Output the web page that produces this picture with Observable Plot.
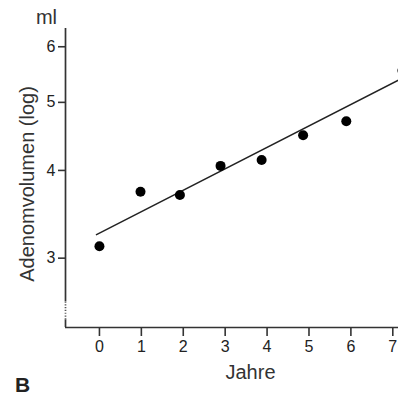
<!DOCTYPE html>
<html>
<head>
<meta charset="utf-8">
<script src="https://cdn.jsdelivr.net/npm/d3@7"></script>
<script src="https://cdn.jsdelivr.net/npm/@observablehq/plot@0.6"></script>
<style>
  html, body { margin: 0; padding: 0; background: #fff; }
  svg { font-family: "Liberation Sans", Arial, sans-serif; }
</style>
</head>
<body>
<div id="chart"></div>
<script>
// Data
const years = [0, 0.98, 1.92, 2.89, 3.87, 4.86, 5.89, 7.23];
const volumes = [3.12, 3.73, 3.69, 4.06, 4.14, 4.49, 4.70, 5.55];
const fitYears = [-0.07, 7.14];
const fitVolumes = [3.24, 5.38];
const xTicks = [0, 1, 2, 3, 4, 5, 6, 7];
const yTicks = [3, 4, 5, 6];
const xDomain = [-0.81, 7.136];
const yDomain = [2.39, 6.37];
const axisBreak = [2.45, 2.6];

const points = years.map((x, i) => ({x, y: volumes[i]}));
const fit = fitYears.map((x, i) => ({x, y: fitVolumes[i]}));

const ink = "#222";
const chart = Plot.plot({
  width: 398,
  height: 398,
  marginLeft: 65,
  marginRight: 0,
  marginTop: 28,
  marginBottom: 71,
  style: {fontFamily: "Liberation Sans, Arial, sans-serif", color: ink, background: "#fff"},
  x: {domain: xDomain},
  y: {type: "log", domain: yDomain},
  marks: [
    // axis lines
    Plot.ruleY([yDomain[0]], {stroke: "#333", strokeWidth: 1.7}),
    Plot.ruleX([xDomain[0]], {y1: axisBreak[1], y2: yDomain[1], stroke: "#333", strokeWidth: 1.7}),
    Plot.ruleX([xDomain[0]], {y1: axisBreak[0], y2: axisBreak[1], stroke: "#555", strokeWidth: 1.7, strokeDasharray: "1.2,1.6"}),
    Plot.ruleX([xDomain[0]], {y1: yDomain[0], y2: axisBreak[0], stroke: "#333", strokeWidth: 1.7}),
    Plot.axisX(xTicks, {tickSize: 9, tickPadding: 4, fontSize: 16, label: null, stroke: "#333", fill: "#222", strokeWidth: 1.6, tickFormat: d => d}),
    Plot.axisY(yTicks, {tickSize: 7, tickPadding: 3, fontSize: 16, label: null, stroke: "#333", fill: "#222", strokeWidth: 1.6, tickFormat: d => d}),
    // regression line
    Plot.line(fit, {x: "x", y: "y", stroke: ink, strokeWidth: 1.5}),
    // data points
    Plot.dot(points, {x: "x", y: "y", r: 5, fill: "#000", stroke: "none"}),
    // labels
    Plot.text(["Jahre"], {frameAnchor: "bottom", textAnchor: "middle", lineAnchor: "middle", dx: 18.5, dy: 45, fontSize: 20, fill: "#333"}),
    Plot.text(["Adenomvolumen (log)"], {frameAnchor: "left", textAnchor: "middle", lineAnchor: "middle", rotate: -90, dx: -38, dy: 6, fontSize: 20, fill: "#333"}),
    Plot.text(["ml"], {frameAnchor: "top-left", textAnchor: "middle", lineAnchor: "middle", dx: -19, dy: -11, fontSize: 20, fill: "#333"}),
    Plot.text(["B"], {frameAnchor: "bottom-left", textAnchor: "middle", lineAnchor: "middle", dx: -43, dy: 58, fontSize: 21, fontWeight: "bold", fill: "#222"})
  ]
});
document.getElementById("chart").appendChild(chart);
</script>
</body>
</html>
